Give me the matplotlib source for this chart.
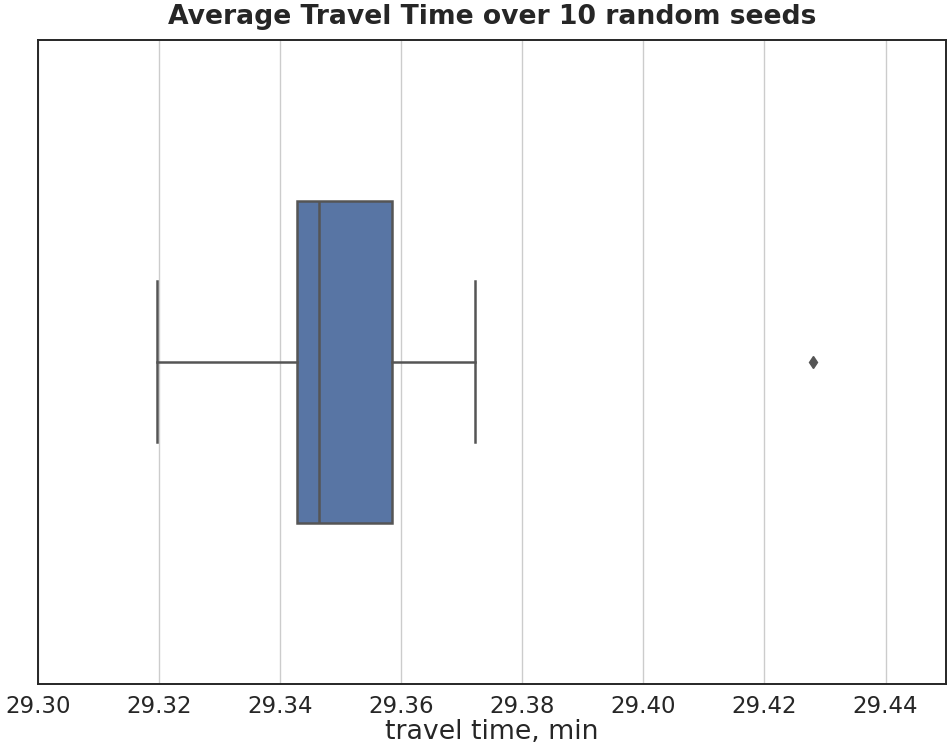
import matplotlib
matplotlib.use("Agg")
import matplotlib.pyplot as plt
import numpy as np

# average travel time (min) for each of the 10 random seeds
travel_times = [29.3197, 29.3380, 29.3425, 29.3437, 29.3455,
                29.3473, 29.3560, 29.3593, 29.3722, 29.4280]
xticks = [29.30, 29.32, 29.34, 29.36, 29.38, 29.40, 29.42, 29.44]

dark = "#262626"
line_col = "#555555"
box_col = "#5875A4"

fig = plt.figure(figsize=(9.48, 7.5), dpi=100)
ax = fig.add_axes([0.040, 0.088, 0.958, 0.859])

ax.boxplot(travel_times, positions=[0], widths=0.5, orientation="horizontal",
           patch_artist=True, capwidths=0.25, zorder=3,
           boxprops=dict(facecolor=box_col, edgecolor=line_col, linewidth=1.8),
           medianprops=dict(color=line_col, linewidth=1.8),
           whiskerprops=dict(color=line_col, linewidth=1.8),
           capprops=dict(color=line_col, linewidth=1.8),
           flierprops=dict(marker="d", markersize=6, markerfacecolor=line_col,
                           markeredgecolor=line_col))

ax.set_xlim(29.30, 29.45)
ax.set_ylim(0.5, -0.5)
ax.set_yticks([])
ax.set_xticks(xticks)
ax.set_xticklabels([f"{t:.2f}" for t in xticks])
ax.tick_params(axis="x", length=0, pad=8, labelsize=16.5, labelcolor=dark)
ax.xaxis.grid(True, color="#cccccc", linewidth=1.0, zorder=0)
ax.set_axisbelow(True)
for s in ax.spines.values():
    s.set_color(dark)
    s.set_linewidth(1.4)

ax.set_xlabel("travel time, min", fontsize=19.3, color=dark, labelpad=1)
ax.set_title("Average Travel Time over 10 random seeds", fontsize=19.2,
             fontweight="bold", color=dark, pad=11)

fig.savefig("out.png", dpi=100)
